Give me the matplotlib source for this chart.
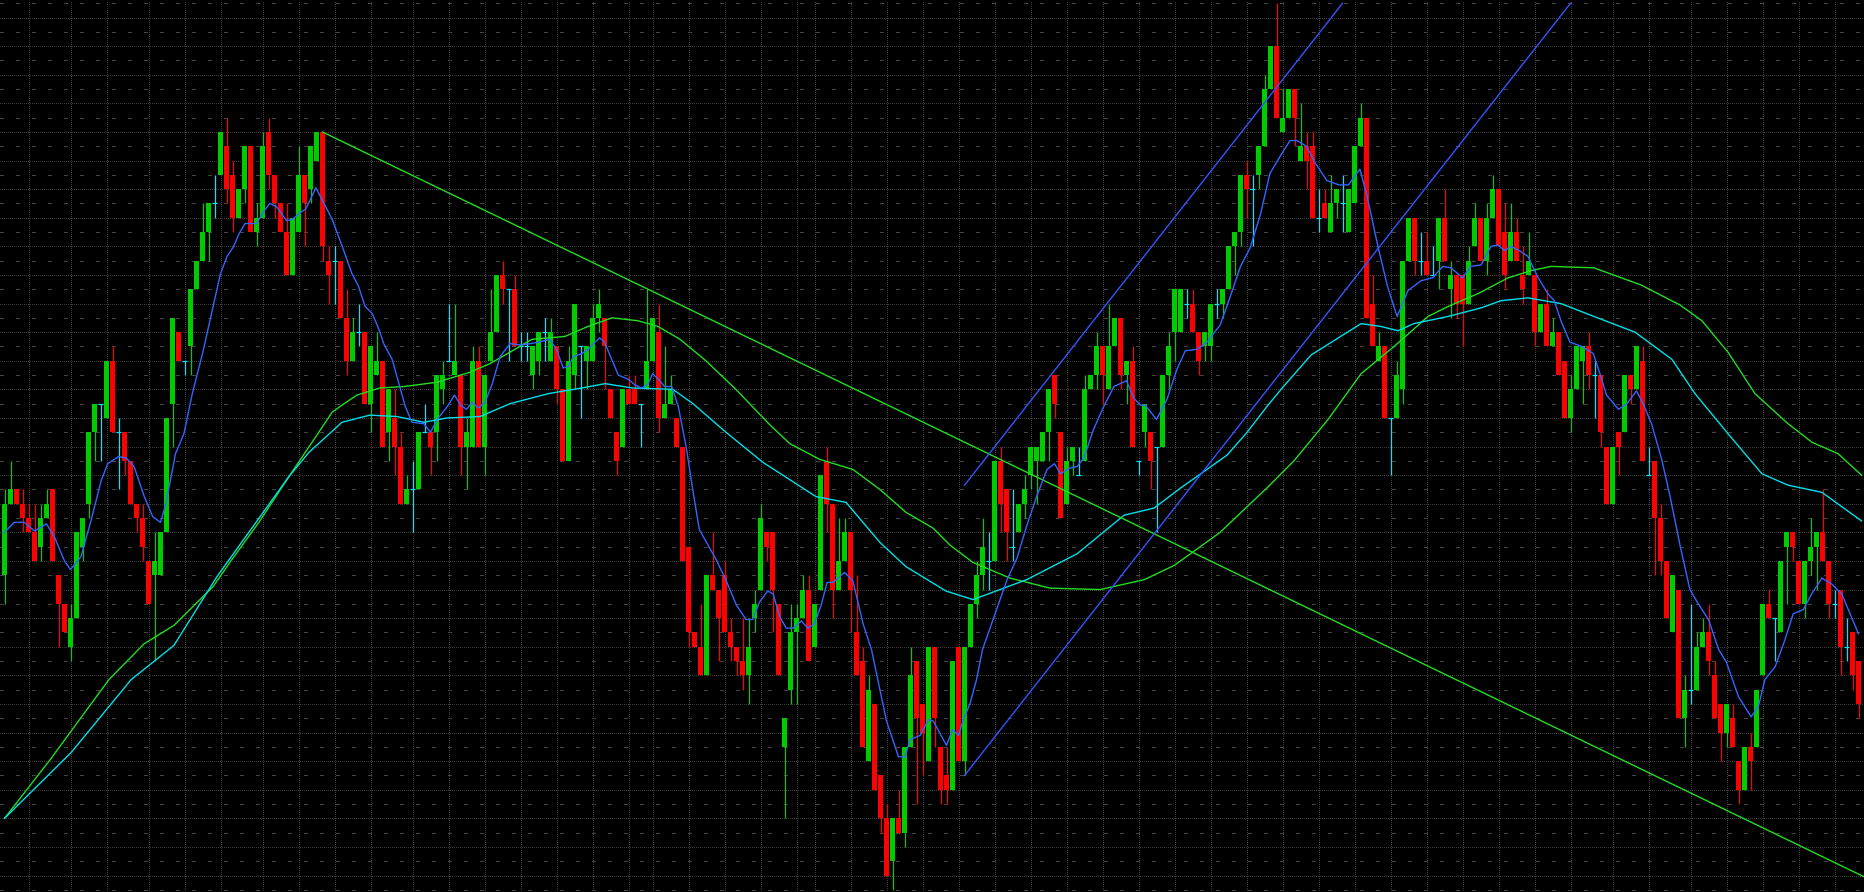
import matplotlib
matplotlib.use("Agg")
import matplotlib.pyplot as plt
import numpy as np

# OHLC, in price ticks (one tick = one grid step)
opens = [22, 27, 28, 27, 26, 25, 24, 26, 28, 22, 20, 17, 19, 24, 27, 32, 34, 33, 37, 32,
         32, 30, 27, 26, 23, 22, 22, 25, 34, 39, 37, 38, 42, 44, 46, 48, 50, 52, 50, 47,
         49, 52, 46, 47, 53, 50, 48, 46, 43, 46, 50, 49, 51, 53, 44, 44, 44, 40, 37, 39,
         39, 34, 36, 37, 32, 33, 31, 27, 28, 28, 32, 32, 32, 35, 37, 36, 36, 31, 31, 37,
         31, 37, 39, 43, 42, 42, 38, 38, 36, 37, 39, 37, 38, 35, 30, 36, 38, 37, 37, 40,
         40, 35, 32, 31, 35, 35, 34, 35, 37, 39, 33, 34, 33, 31, 24, 18, 17, 15, 22, 21,
         22, 18, 17, 16, 15, 19, 21, 25, 25, 20, 10, 14, 18, 19, 21, 17, 21, 30, 27, 21,
         23, 25, 18, 16, 9, 13, 8, 5, 2, 5, 4, 10, 16, 13, 9, 17, 10, 8, 7, 17,
         9, 17, 20, 22, 23, 23, 30, 28, 24, 25, 27, 29, 30, 30, 32, 36, 32, 27, 30, 29,
         30, 35, 36, 38, 35, 38, 40, 36, 37, 30, 32, 32, 31, 31, 36, 39, 39, 41, 41, 39,
         38, 38, 41, 41, 42, 45, 46, 50, 49, 50, 52, 56, 59, 53, 54, 56, 51, 52, 52, 47,
         48, 46, 48, 48, 46, 48, 52, 54, 41, 37, 38, 33, 33, 35, 44, 47, 44, 44, 43, 44,
         47, 42, 43, 43, 41, 45, 47, 44, 47, 49, 46, 44, 46, 43, 43, 43, 39, 41, 38, 39,
         37, 33, 35, 37, 38, 36, 36, 31, 27, 32, 32, 36, 35, 37, 29, 30, 26, 23, 18, 21,
         12, 14, 14, 17, 18, 15, 13, 11, 12, 9, 7, 10, 10, 15, 20, 19, 18, 24, 25, 23,
         20, 23, 24, 25, 23, 20, 21, 17, 18, 16]
highs = [28, 30, 28, 28, 27, 27, 27, 28, 28, 22, 20, 20, 25, 26, 32, 34, 34, 37, 38, 33,
         32, 30, 27, 27, 23, 25, 25, 33, 40, 39, 37, 42, 44, 48, 48, 50, 53, 54, 51, 49,
         52, 52, 48, 53, 54, 50, 48, 48, 47, 52, 50, 52, 53, 53, 45, 45, 44, 42, 40, 41,
         39, 38, 39, 37, 35, 35, 32, 29, 30, 32, 34, 32, 36, 37, 41, 41, 36, 33, 38, 38,
         36, 42, 43, 44, 42, 43, 39, 39, 38, 39, 40, 40, 38, 35, 38, 41, 38, 38, 41, 42,
         40, 35, 32, 35, 36, 36, 34, 42, 40, 41, 38, 36, 33, 31, 24, 18, 20, 22, 25, 21,
         23, 19, 17, 19, 19, 21, 27, 25, 25, 20, 12, 20, 20, 22, 22, 20, 29, 31, 27, 26,
         26, 25, 22, 17, 15, 13, 8, 6, 5, 7, 10, 17, 16, 13, 17, 17, 10, 10, 16, 17,
         17, 20, 23, 26, 25, 30, 31, 28, 28, 27, 29, 31, 31, 32, 35, 36, 32, 31, 31, 31,
         36, 36, 39, 38, 41, 40, 40, 37, 38, 30, 34, 32, 31, 36, 39, 42, 42, 42, 42, 39,
         39, 41, 42, 42, 45, 46, 50, 51, 50, 52, 57, 59, 62, 56, 56, 56, 55, 53, 53, 49,
         49, 50, 49, 50, 49, 52, 55, 54, 43, 39, 38, 33, 37, 44, 47, 47, 46, 46, 45, 47,
         49, 44, 43, 43, 45, 48, 47, 48, 50, 49, 48, 48, 47, 45, 46, 43, 41, 42, 40, 39,
         37, 36, 38, 38, 39, 37, 36, 31, 31, 32, 36, 36, 38, 38, 31, 30, 27, 23, 22, 21,
         15, 20, 18, 19, 20, 16, 13, 13, 13, 9, 10, 11, 14, 20, 21, 19, 23, 25, 25, 23,
         23, 26, 25, 28, 23, 21, 21, 19, 18, 16]
lows = [20, 27, 27, 25, 25, 23, 23, 26, 23, 17, 18, 16, 19, 23, 26, 30, 30, 33, 32, 28,
        29, 27, 25, 23, 20, 16, 22, 25, 31, 37, 36, 36, 42, 44, 44, 47, 50, 48, 46, 47,
        48, 46, 45, 47, 49, 47, 46, 43, 43, 46, 45, 48, 51, 44, 41, 41, 40, 36, 37, 38,
        34, 32, 36, 31, 30, 29, 27, 27, 25, 28, 32, 29, 30, 34, 37, 36, 29, 28, 31, 31,
        29, 37, 39, 41, 37, 38, 37, 37, 35, 36, 37, 37, 34, 30, 30, 35, 33, 35, 37, 39,
        35, 33, 29, 31, 34, 34, 31, 35, 37, 32, 33, 34, 31, 23, 17, 17, 15, 15, 21, 16,
        18, 16, 15, 14, 13, 18, 21, 23, 18, 15, 5, 13, 13, 19, 16, 17, 21, 25, 19, 21,
        23, 18, 15, 10, 9, 7, 4, 1, 0, 4, 3, 10, 6, 8, 9, 10, 6, 6, 7, 9,
        8, 17, 19, 21, 21, 23, 25, 23, 23, 25, 26, 28, 27, 30, 30, 33, 26, 27, 29, 29,
        30, 35, 35, 34, 35, 38, 35, 34, 31, 29, 31, 28, 25, 31, 35, 37, 39, 40, 39, 36,
        37, 37, 40, 40, 42, 43, 45, 47, 45, 49, 52, 56, 54, 53, 54, 52, 51, 49, 47, 46,
        47, 46, 47, 46, 46, 48, 52, 40, 38, 37, 33, 29, 33, 34, 44, 43, 43, 43, 43, 42,
        44, 40, 40, 38, 41, 45, 44, 43, 47, 45, 42, 44, 44, 41, 43, 38, 39, 38, 38, 36,
        33, 32, 35, 34, 35, 33, 31, 27, 27, 29, 32, 34, 35, 30, 29, 22, 22, 19, 18, 12,
        10, 13, 14, 17, 15, 12, 9, 10, 10, 6, 7, 7, 10, 15, 19, 16, 18, 20, 23, 20,
        19, 22, 21, 23, 19, 19, 15, 16, 14, 12]
closes = [27, 28, 27, 26, 25, 23, 26, 27, 23, 20, 18, 19, 25, 26, 32, 34, 34, 37, 32, 32,
          30, 27, 26, 24, 20, 23, 25, 33, 40, 37, 37, 42, 44, 46, 48, 48, 53, 49, 47, 49,
          52, 46, 47, 52, 50, 48, 46, 43, 47, 50, 48, 52, 53, 45, 43, 44, 40, 37, 39, 39,
          34, 38, 37, 31, 35, 31, 27, 28, 28, 32, 32, 31, 36, 36, 37, 37, 31, 32, 37, 31,
          36, 39, 43, 42, 42, 38, 38, 38, 38, 39, 39, 39, 35, 30, 37, 41, 38, 38, 40, 41,
          38, 33, 30, 35, 34, 34, 34, 37, 40, 33, 34, 35, 31, 23, 18, 17, 15, 22, 21, 19,
          18, 17, 16, 15, 17, 20, 26, 24, 21, 15, 12, 18, 19, 21, 16, 20, 29, 27, 21, 23,
          25, 21, 15, 10, 14, 7, 5, 1, 5, 4, 10, 15, 12, 11, 17, 12, 7, 7, 16, 9,
          17, 20, 22, 24, 23, 30, 27, 25, 24, 27, 28, 31, 31, 32, 35, 34, 26, 30, 31, 29,
          35, 36, 38, 36, 38, 40, 36, 37, 31, 30, 34, 30, 31, 36, 38, 42, 42, 41, 39, 37,
          39, 41, 41, 42, 45, 46, 50, 49, 49, 52, 56, 59, 54, 54, 56, 54, 52, 51, 47, 47,
          47, 48, 49, 48, 49, 52, 54, 40, 38, 38, 33, 33, 36, 44, 47, 44, 44, 43, 43, 47,
          44, 43, 41, 41, 44, 47, 44, 47, 49, 45, 43, 46, 44, 42, 44, 39, 41, 38, 39, 36,
          33, 35, 38, 38, 36, 36, 32, 27, 31, 31, 36, 35, 38, 30, 29, 26, 23, 19, 22, 12,
          14, 14, 17, 18, 16, 12, 11, 13, 10, 7, 10, 9, 14, 20, 19, 19, 23, 25, 24, 20,
          23, 24, 25, 23, 20, 20, 17, 17, 15, 13]

# fast moving average (blue), sampled along the chart: bar index, value
ma_fast_idx = [0, 1.6, 3.3, 5, 7, 8.3, 10, 11, 12.75, 14.4, 16.1, 17.2, 19, 20.3, 21.6, 23.3, 24.7, 26,
               26.9, 28.5, 29.9, 31.3, 33, 34.6, 36, 37.1, 38.2, 39.1, 40.1, 42, 43.3, 44.2, 45.3, 47,
               48, 49.4, 50.2, 51.9, 53, 54.6, 56.3, 57.9, 59, 60.1, 61.3, 62.4, 63.2, 64.6, 66, 66.8,
               67.9, 69.9, 71, 72.1, 73.8, 75, 76, 77, 77.9, 79, 80.1, 81.3, 82.6, 84.25, 86.2, 89,
               90.9, 92, 93.1, 94, 94.8, 96.2, 97.3, 98.4, 99.2, 100, 101.1, 102.3, 104, 105.1, 106.2,
               107.3, 108, 109, 110, 111.2, 112.3, 113.6, 114.7, 115.8, 117, 118.6, 120.3, 122, 123.6,
               124.7, 125.8, 127.2, 128.1, 129.2, 130.3, 131.4, 132.8, 133.9, 135, 136.1, 137.1, 138.1,
               139.2, 140, 141.4, 143.1, 144.5, 147, 149, 150.1, 150.9, 152.6, 154, 154.8, 157, 158,
               159, 159.8, 160.9, 162, 163, 167.1, 168.75, 170.4, 172.1, 173.75, 175, 176, 177.6,
               178.75, 179.9, 181.5, 183.2, 184.9, 187, 188.2, 189.3, 190.1, 192, 193.75, 195.4,
               196.8, 198.75, 200.4, 202.6, 204.3, 206, 207.6, 209.3, 210.9, 212.6, 214.25, 215.4,
               217, 218.5, 220.4, 222.4, 224, 225.9, 227.1, 228.9, 230.5, 232.1, 233.9, 236.1, 238,
               239.7, 241.1, 243, 244.4, 246.1, 247.75, 248.9, 250, 251.1, 252.5, 253.9, 255.5, 257.2,
               258.3, 259.4, 260.9, 262.9, 264.8, 265.9, 267, 269, 270.4, 272, 273.1, 274.5, 276.2,
               277.6, 279.3, 280.9, 282.3, 284, 285.7, 287, 289, 291.1, 292.3, 293.4, 295.1, 296.75,
               298.1, 299.8, 301.2, 302.9, 304.5, 306.2, 307.6, 309]
ma_fast_val = [25.0, 25.7, 25.7, 25.1, 25.6, 24.7, 23.0, 22.4, 23.3, 25.8, 28.6, 29.8, 30.3, 30.2, 29.6,
               27.5, 26.1, 25.7, 27.0, 30.5, 31.9, 34.7, 37.5, 40.5, 43.1, 44.3, 45.0, 45.9, 46.6, 46.6,
               47.5, 48.0, 47.8, 46.8, 46.9, 47.4, 47.6, 49.1, 48.2, 46.9, 45.0, 43.1, 42.2, 40.8, 40.3,
               39.2, 38.2, 37.1, 35.0, 33.8, 32.7, 32.6, 32.0, 32.9, 33.8, 34.6, 33.9, 33.6, 34.1, 33.7,
               34.1, 35.4, 37.3, 38.2, 38.1, 38.3, 38.5, 37.8, 36.5, 36.6, 37.3, 37.5, 37.8, 38.3, 38.6,
               38.3, 37.2, 36.0, 35.7, 35.3, 35.1, 35.4, 36.1, 35.7, 35.2, 35.2, 33.8, 31.0, 28.0, 25.2,
               24.3, 23.1, 21.6, 19.9, 18.9, 18.9, 20.1, 20.9, 20.7, 19.1, 18.3, 18.3, 18.8, 18.3, 18.6,
               19.9, 21.5, 21.5, 21.9, 22.2, 21.6, 18.6, 16.8, 11.8, 9.3, 9.3, 10.5, 10.8, 11.9, 11.8,
               10.1, 11.2, 10.8, 11.9, 13.0, 14.7, 16.8, 21.7, 23.2, 25.5, 27.6, 29.4, 29.8, 29.1, 29.5,
               29.6, 30.2, 32.2, 33.8, 35.2, 35.6, 34.4, 33.9, 33.9, 32.9, 34.3, 36.4, 37.7, 37.8, 38.3,
               39.5, 41.5, 43.6, 44.9, 47.2, 50.1, 51.3, 52.4, 52.4, 52.0, 50.8, 49.6, 49.3, 49.3, 50.4,
               48.5, 45.0, 42.2, 40.1, 41.9, 42.6, 42.8, 43.6, 43.5, 42.8, 43.6, 43.7, 45.0, 45.1, 44.7,
               45.0, 44.7, 44.3, 42.9, 41.7, 41.2, 39.8, 38.3, 38.0, 37.5, 36.1, 34.6, 33.6, 34.0, 34.9,
               34.0, 32.6, 30.1, 27.5, 24.0, 21.0, 20.0, 18.9, 16.8, 15.9, 13.5, 12.1, 12.8, 14.7, 15.6,
               17.5, 19.3, 19.6, 20.7, 21.8, 21.4, 20.7, 19.3, 17.9]

# middle moving average (cyan)
ma_mid_idx = [0, 11.1, 21.1, 28.25, 35.4, 42.6, 47.4, 50.75, 56.25, 60.9, 65.4, 69.9, 73.75, 79.25,
              84.25, 90.6, 96.25, 100.1, 104.6, 111.4, 114.75, 120.25, 126.4, 135.25, 140.25, 145.9,
              150.25, 156.9, 161.4, 170.4, 178.75, 186.6, 191.6, 196, 200.4, 203.75, 207.1, 210.4,
              212.75, 217.75, 226.1, 229.4, 232.25, 234.9, 240.6, 246.1, 249.4, 253.9, 259.4, 266.75,
              271.75, 277.9, 281.75, 287.25, 292.9, 297.25, 302.9, 309.5]
ma_mid_val = [5.0, 9.6, 14.7, 17.1, 21.9, 26.1, 28.9, 30.6, 32.7, 33.2, 33.1, 32.7, 33.0, 33.1, 34.0,
              34.7, 35.1, 35.4, 35.1, 35.0, 34.0, 32.0, 29.9, 27.5, 27.1, 24.3, 22.6, 20.9, 20.3, 21.7,
              23.5, 26.2, 26.7, 28.1, 29.4, 30.4, 32.0, 33.8, 35.0, 37.4, 39.6, 39.4, 39.1, 39.6, 40.1,
              40.7, 41.2, 41.4, 41.0, 39.8, 39.0, 37.1, 34.7, 31.9, 29.1, 28.3, 27.8, 25.8]

# slow moving average (green)
ma_slow_idx = [0, 7.6, 17.4, 23.25, 28.25, 34.75, 37.9, 42.4, 47.4, 51.9, 54.6, 56.25, 58.75, 62.6,
               66.6, 72.1, 77.6, 80.9, 84.25, 87.9, 93.4, 97.25, 101.25, 105.6, 108.9, 112.6, 116.9,
               121.9, 127.6, 130.9, 135.9, 141.4, 145.9, 150.25, 154.75, 157.6, 161.4, 167.6, 174.25,
               182.6, 190, 195, 202.6, 207.1, 210.4, 214.9, 220.6, 226.1, 231.6, 237.25, 240.6, 245.6,
               250.6, 254.4, 257.75, 264.9, 272.75, 279.25, 282.9, 287.25, 291.75, 297.25, 301.25,
               305.6, 309.5]
ma_slow_val = [5.0, 9.1, 14.7, 17.2, 18.5, 21.2, 23.1, 25.7, 28.9, 31.7, 33.4, 33.9, 34.6, 35.1, 35.2,
               35.5, 36.2, 36.8, 37.6, 38.5, 38.7, 39.4, 40.0, 39.8, 39.4, 38.5, 37.0, 35.0, 32.5, 31.2,
               30.1, 29.4, 28.0, 26.4, 25.3, 24.1, 22.9, 21.8, 21.1, 21.0, 21.7, 22.7, 25.0, 26.8, 28.1,
               30.0, 32.9, 36.1, 38.0, 40.1, 40.8, 41.7, 42.8, 43.3, 43.6, 43.5, 42.3, 40.9, 39.8, 37.6,
               34.7, 32.6, 31.3, 30.5, 29.0]

# hand-drawn lines: (bar, price) end points
trend_down = [(53, 53.0), (310, 0.9)]
channel_low = [(160, 8.0), (261, 62.0)]
channel_high = [(160, 28.3), (223, 62.0)]

# bars where the time grid has a vertical line
time_grid = [4, 11, 17, 24, 30, 36, 43, 49, 55, 61, 68, 74, 80, 86, 92, 98, 104, 108, 114, 120, 126,
             132, 135, 141, 147, 153, 159, 165, 171, 177, 183, 189, 195, 201, 207, 213, 219, 225,
             231, 237, 243, 249, 255, 261, 268, 274, 281, 287, 293, 299, 305]

UP = "#00cc00"
DOWN = "#ff0000"
DOJI = "#00e8ff"
PX = 0.72  # one pixel in points at dpi 100

o = np.array(opens, float)
h = np.array(highs, float)
l = np.array(lows, float)
c = np.array(closes, float)
x = np.arange(len(o))

fig = plt.figure(figsize=(18.65, 8.92), dpi=100, facecolor="black")
ax = fig.add_axes([0, 0, 1, 1])
ax.set_facecolor("black")
ax.set_xlim(-0.75, 310.08)
ax.set_ylim(-0.15, 62.23)
ax.axis("off")

# grid: dotted lines on odd levels, sparse short dashes on even levels
for p in range(0, 63):
    if p % 2 == 1:
        ax.axhline(p, color="#3a3a3a", lw=PX, ls=(0, (1, 2)), zorder=0, antialiased=False)
    else:
        ax.axhline(p, color="#444444", lw=PX, ls=(0, (3, 12)), zorder=0, antialiased=False)
for t in time_grid:
    ax.axvline(t, color="#3a3a3a", lw=PX, ls=(0, (1, 2)), zorder=0, antialiased=False)

up = c > o
dn = c < o
eq = c == o
cols = np.where(up, UP, np.where(dn, DOWN, DOJI))

ax.vlines(x, l, h, colors=cols, lw=PX * 1.2, zorder=2)
ax.bar(x[up], (c - o)[up], bottom=o[up], width=0.8, color=UP, lw=0, zorder=3)
ax.bar(x[dn], (c - o)[dn], bottom=o[dn], width=0.8, color=DOWN, lw=0, zorder=3)
ax.hlines(o[eq], x[eq] - 0.4, x[eq] + 0.4, colors=DOJI, lw=PX * 1.2, zorder=3)

# moving averages
ax.plot(ma_slow_idx, ma_slow_val, color="#22dd22", lw=1.0, zorder=4)
ax.plot(ma_mid_idx, ma_mid_val, color="#00e0e8", lw=1.0, zorder=4)
ax.plot(ma_fast_idx, ma_fast_val, color="#3366ff", lw=1.0, zorder=5)

# trend lines
for pts, col in [(trend_down, "#22dd22"), (channel_low, "#3355ff"), (channel_high, "#3355ff")]:
    xs, ys = zip(*pts)
    ax.plot(xs, ys, color=col, lw=1.0, zorder=4)

fig.savefig("out.png", dpi=100, facecolor="black")
